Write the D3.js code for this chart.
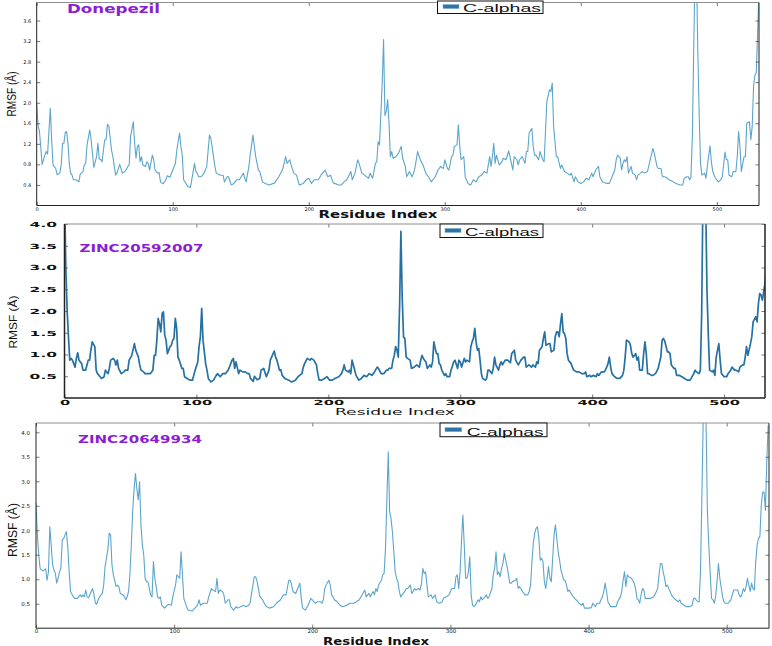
<!DOCTYPE html>
<html><head><meta charset="utf-8">
<script src="https://cdn.jsdelivr.net/npm/d3@7"></script>
<style>body{margin:0;background:#fff}svg{display:block}</style>
</head><body>
<svg id="c" width="772" height="646"></svg>
<script>
// ---- data (residue index, RMSF in Å) ----
const xTicks = [0, 100, 200, 300, 400, 500];
const yTicksDonepezil = [0.4, 0.8, 1.2, 1.6, 2.0, 2.4, 2.8, 3.2, 3.6];
const yTicksZinc = [0.5, 1.0, 1.5, 2.0, 2.5, 3.0, 3.5, 4.0];
const titles = ["Donepezil", "ZINC20592007", "ZINC20649934"];
const legendLabel = "C-alphas";
const xLabel = "Residue Index";
const yLabel = "RMSF (Å)";

const donepezil = [[0,1.98],[1,1.55],[2,1.45],[4,0.80],[6,0.98],[7,1.05],[8,1.00],[10,1.89],[11,1.28],[12,0.79],[14,0.72],[15,0.60],[17,0.63],[18,0.79],[19,1.21],[20,1.21],[21,1.42],[22,1.44],[23,1.21],[24,0.80],[25,0.63],[26,0.59],[27,0.50],[29,0.50],[31,0.46],[32,0.61],[34,0.66],[35,0.79],[36,0.82],[37,1.18],[39,1.47],[40,1.28],[42,0.74],[44,0.95],[45,1.21],[46,0.90],[47,0.90],[48,0.85],[50,1.28],[51,1.28],[52,1.58],[53,1.55],[55,1.08],[56,0.95],[58,0.59],[59,0.63],[61,0.80],[62,0.72],[63,0.63],[65,0.66],[67,0.76],[68,0.79],[69,1.34],[71,1.63],[72,1.21],[73,0.92],[74,1.15],[75,1.18],[76,0.85],[77,0.95],[78,0.79],[80,0.76],[81,0.85],[82,0.82],[83,0.69],[85,0.98],[86,0.89],[87,0.69],[89,0.63],[90,0.64],[91,0.46],[93,0.42],[95,0.50],[96,0.58],[98,0.55],[100,0.69],[102,0.82],[103,1.08],[105,1.41],[106,1.15],[107,0.98],[108,0.50],[110,0.42],[111,0.37],[113,0.35],[114,0.50],[116,0.82],[117,0.66],[118,0.63],[119,0.56],[121,0.56],[123,0.63],[125,0.76],[127,1.37],[128,1.31],[130,0.95],[131,0.76],[132,0.63],[135,0.59],[137,0.59],[138,0.46],[140,0.56],[141,0.56],[143,0.40],[145,0.43],[147,0.50],[149,0.50],[152,0.63],[153,0.53],[154,0.46],[156,0.76],[157,1.00],[159,1.37],[161,0.95],[163,0.69],[164,0.66],[166,0.46],[168,0.43],[171,0.40],[175,0.44],[178,0.56],[180,0.66],[181,0.72],[183,0.95],[184,0.82],[186,0.89],[187,0.79],[189,0.63],[191,0.59],[193,0.40],[196,0.43],[198,0.50],[200,0.53],[202,0.43],[204,0.50],[207,0.50],[209,0.59],[212,0.69],[214,0.56],[216,0.59],[218,0.44],[222,0.40],[224,0.40],[226,0.46],[228,0.50],[231,0.66],[232,0.50],[234,0.63],[236,0.89],[237,0.82],[239,0.63],[241,0.59],[244,0.53],[245,0.63],[247,0.53],[249,0.82],[250,0.85],[251,1.24],[252,1.18],[254,2.38],[255,3.23],[256,1.75],[257,1.83],[258,2.06],[259,1.60],[260,0.95],[261,1.05],[262,0.92],[264,0.95],[266,1.02],[268,1.15],[269,0.92],[271,0.76],[272,0.56],[274,0.66],[276,0.56],[277,0.63],[278,0.72],[280,1.05],[282,0.89],[284,0.79],[286,0.63],[288,0.56],[290,0.46],[293,0.56],[295,0.69],[297,0.76],[299,0.72],[300,0.89],[302,0.72],[303,0.69],[305,0.95],[306,0.98],[307,1.15],[309,1.18],[310,1.57],[311,1.15],[312,0.89],[314,0.95],[315,0.56],[317,0.43],[319,0.40],[321,0.50],[323,0.46],[325,0.56],[327,0.59],[329,0.66],[331,0.63],[333,0.95],[334,0.76],[335,0.95],[336,1.21],[337,0.82],[338,0.98],[340,0.79],[342,0.85],[343,0.92],[345,0.89],[347,1.06],[349,0.82],[350,0.69],[351,0.95],[353,0.89],[354,0.79],[355,0.89],[357,0.95],[359,0.82],[360,1.05],[361,1.05],[362,1.41],[364,1.50],[365,1.15],[366,0.98],[367,0.98],[369,0.89],[370,1.05],[372,0.89],[373,0.85],[374,1.41],[375,2.02],[377,2.25],[378,2.22],[379,2.38],[380,1.54],[382,0.95],[383,0.95],[385,0.72],[386,0.79],[388,0.66],[390,0.63],[392,0.59],[393,0.63],[395,0.46],[396,0.56],[398,0.46],[400,0.43],[402,0.46],[404,0.53],[406,0.50],[408,0.63],[409,0.56],[411,0.69],[413,0.76],[414,0.56],[416,0.46],[419,0.43],[421,0.43],[423,0.56],[425,0.69],[426,0.89],[427,0.98],[429,0.92],[430,0.69],[431,0.82],[432,0.89],[433,0.85],[434,0.95],[435,0.63],[437,0.76],[438,0.63],[440,0.59],[441,0.50],[442,0.59],[444,0.63],[445,0.66],[447,0.63],[449,0.66],[451,0.89],[453,1.11],[454,1.02],[456,0.76],[457,0.72],[459,0.72],[460,0.56],[462,0.56],[465,0.50],[468,0.46],[470,0.43],[473,0.40],[475,0.40],[476,0.53],[478,0.56],[479,0.56],[480,0.50],[481,0.55],[482,1.34],[483,3.03],[484,4.60],[485,4.60],[486,3.03],[487,1.80],[488,0.82],[489,0.59],[491,0.63],[492,0.53],[493,0.76],[495,1.16],[496,0.85],[497,0.66],[499,0.53],[501,0.46],[503,0.50],[504,0.56],[506,1.04],[507,0.89],[508,0.89],[509,0.59],[511,0.56],[512,0.66],[514,0.66],[515,0.95],[516,1.44],[517,1.15],[518,0.66],[520,0.95],[521,0.95],[522,1.60],[524,1.63],[525,1.28],[526,1.54],[527,2.32],[528,2.54],[529,2.58],[530,3.36],[531,4.20]];

const zinc20592007 = [[0,4.80],[1,3.00],[2,2.02],[3,1.41],[4,0.87],[5,0.91],[6,0.87],[8,0.71],[9,0.91],[10,1.04],[11,0.87],[13,0.79],[14,0.64],[16,0.64],[18,0.87],[19,0.87],[20,1.10],[21,1.29],[23,1.18],[24,0.64],[25,0.56],[27,0.49],[28,0.45],[30,0.49],[31,0.64],[33,0.56],[34,0.68],[35,0.87],[37,0.91],[38,0.87],[39,0.76],[40,0.87],[41,0.68],[43,0.56],[45,0.60],[46,0.64],[48,0.64],[49,0.87],[51,0.98],[53,1.25],[54,1.10],[56,0.94],[57,0.76],[58,0.64],[60,0.60],[61,0.56],[63,0.56],[65,0.56],[67,0.64],[68,0.98],[69,0.98],[70,1.33],[71,1.83],[72,1.71],[73,1.52],[74,1.94],[75,1.98],[76,1.44],[77,1.33],[78,1.02],[80,1.18],[81,1.21],[82,1.33],[83,1.37],[84,1.83],[85,1.60],[86,0.94],[87,0.87],[89,0.68],[90,0.68],[91,0.49],[93,0.45],[95,0.41],[97,0.41],[99,0.64],[101,0.83],[102,1.18],[103,1.41],[104,2.06],[105,1.33],[107,0.79],[108,0.64],[109,0.45],[111,0.37],[113,0.41],[115,0.52],[116,0.56],[118,0.49],[120,0.56],[122,0.56],[124,0.64],[125,0.71],[127,0.87],[128,0.91],[129,0.68],[130,0.83],[132,0.56],[133,0.64],[135,0.60],[137,0.60],[139,0.56],[140,0.56],[141,0.45],[143,0.38],[144,0.50],[146,0.42],[148,0.45],[149,0.64],[151,0.68],[153,0.49],[155,0.64],[156,0.87],[157,0.94],[159,1.08],[160,0.94],[161,0.87],[163,0.64],[164,0.65],[165,0.52],[167,0.45],[170,0.41],[172,0.37],[175,0.41],[177,0.49],[180,0.56],[181,0.71],[182,0.79],[184,0.91],[186,0.87],[187,0.91],[189,0.87],[191,0.76],[192,0.56],[193,0.41],[195,0.41],[197,0.45],[199,0.49],[201,0.41],[203,0.41],[205,0.45],[208,0.49],[210,0.56],[211,0.64],[212,0.76],[213,0.64],[215,0.60],[216,0.64],[217,0.56],[218,0.87],[220,0.64],[221,0.52],[223,0.41],[225,0.45],[227,0.52],[229,0.49],[231,0.56],[233,0.52],[235,0.60],[237,0.71],[238,0.68],[240,0.56],[242,0.56],[244,0.64],[245,0.64],[246,0.68],[248,0.68],[249,0.87],[250,0.98],[251,1.18],[252,1.10],[253,0.94],[254,2.10],[255,3.83],[256,2.30],[257,1.40],[258,1.37],[259,0.94],[260,0.91],[262,0.87],[263,0.68],[265,0.71],[267,0.76],[269,0.71],[270,0.87],[271,0.98],[272,0.91],[274,0.83],[275,0.68],[277,0.76],[278,0.71],[279,0.83],[280,1.29],[281,1.14],[282,1.02],[283,1.02],[284,0.79],[285,0.76],[286,0.64],[288,0.52],[289,0.56],[290,0.49],[292,0.49],[293,0.64],[295,0.83],[296,0.87],[298,0.68],[299,0.87],[300,0.83],[301,0.71],[303,0.91],[304,0.83],[305,0.87],[307,0.83],[308,1.18],[309,1.29],[310,1.37],[311,1.60],[312,1.29],[313,1.10],[314,1.14],[315,0.87],[316,0.56],[317,0.45],[319,0.41],[320,0.45],[321,0.64],[322,0.64],[324,0.56],[325,0.68],[326,0.94],[327,0.76],[329,0.64],[330,0.76],[331,0.83],[332,0.76],[334,0.87],[336,0.87],[338,0.81],[339,1.02],[341,1.10],[342,0.87],[344,0.76],[346,0.87],[348,0.94],[349,0.94],[350,0.71],[352,0.76],[354,0.71],[355,0.76],[357,0.71],[358,0.83],[359,0.79],[360,1.10],[362,1.18],[363,1.37],[364,1.52],[365,1.21],[367,1.25],[368,1.25],[369,1.06],[371,1.10],[372,1.41],[373,1.52],[374,1.52],[375,1.41],[376,1.71],[377,1.94],[378,1.52],[379,1.48],[380,1.37],[381,1.02],[382,0.87],[384,0.79],[385,0.71],[386,0.64],[388,0.60],[390,0.60],[392,0.56],[394,0.56],[395,0.60],[396,0.49],[398,0.52],[399,0.49],[401,0.52],[403,0.49],[404,0.56],[405,0.52],[407,0.60],[409,0.60],[410,0.64],[411,0.71],[412,0.79],[413,0.94],[414,0.71],[415,0.56],[417,0.49],[419,0.45],[421,0.45],[423,0.52],[424,0.64],[425,0.94],[426,1.33],[428,1.29],[429,1.21],[430,1.02],[431,0.94],[433,1.02],[434,0.87],[435,0.94],[436,0.64],[438,0.64],[439,1.02],[440,1.29],[441,1.02],[442,0.56],[443,0.56],[445,0.52],[446,0.52],[448,0.56],[450,0.68],[452,0.94],[453,1.33],[454,1.37],[455,1.31],[457,1.06],[458,1.06],[459,1.02],[460,0.76],[462,0.68],[463,0.68],[464,0.52],[466,0.52],[468,0.49],[470,0.45],[472,0.41],[474,0.41],[475,0.45],[477,0.56],[478,0.64],[479,0.60],[481,0.56],[482,0.64],[483,1.94],[484,4.80],[485,4.80],[486,4.60],[487,2.50],[488,1.48],[489,0.64],[491,0.60],[492,0.64],[493,0.52],[494,0.94],[496,1.25],[497,0.87],[498,0.56],[500,0.49],[502,0.49],[503,0.56],[505,0.64],[506,0.71],[508,0.64],[509,0.64],[511,0.60],[512,0.71],[514,0.76],[515,0.76],[516,0.94],[517,1.18],[518,0.98],[520,1.25],[521,1.41],[522,1.75],[524,1.87],[525,1.75],[526,2.17],[527,2.40],[528,2.37],[529,2.25],[531,2.63],[532,2.94]];

const zinc20649934 = [[0,2.55],[1,1.90],[2,1.49],[3,1.22],[4,1.19],[5,1.17],[6,1.19],[7,1.21],[8,0.98],[9,1.15],[10,2.07],[11,1.70],[12,1.30],[13,1.19],[14,1.12],[15,0.92],[16,1.02],[17,1.15],[18,1.22],[19,1.80],[20,1.83],[21,1.90],[22,1.97],[23,1.66],[24,1.15],[25,0.75],[27,0.64],[28,0.61],[30,0.61],[32,0.68],[33,0.64],[34,0.68],[35,0.64],[36,0.78],[37,0.64],[38,0.62],[40,0.75],[41,0.81],[42,0.68],[43,0.51],[44,0.49],[45,0.58],[46,0.64],[48,0.71],[49,0.88],[50,1.26],[51,1.43],[52,1.60],[53,1.94],[54,1.90],[55,1.29],[56,1.09],[58,0.85],[59,0.88],[60,0.85],[61,0.71],[63,0.68],[64,0.64],[65,0.58],[66,0.64],[67,0.75],[68,1.10],[69,1.70],[70,2.40],[71,2.85],[72,3.16],[73,2.85],[74,2.62],[75,2.99],[76,2.10],[77,1.70],[78,1.49],[79,1.02],[80,0.95],[81,0.95],[83,0.68],[84,0.64],[85,1.36],[86,1.02],[87,0.85],[88,0.64],[89,0.61],[90,0.64],[91,0.47],[93,0.41],[95,0.47],[96,0.49],[98,0.47],[99,0.64],[101,0.88],[102,1.09],[104,1.02],[105,1.56],[106,1.09],[107,0.61],[109,0.44],[110,0.37],[113,0.35],[115,0.41],[117,0.47],[118,0.58],[119,0.47],[121,0.51],[122,0.51],[124,0.51],[125,0.64],[127,0.81],[128,0.78],[130,0.75],[131,1.02],[132,0.71],[133,0.78],[135,0.75],[136,0.68],[137,0.51],[139,0.58],[140,0.58],[141,0.44],[143,0.37],[145,0.44],[146,0.41],[148,0.44],[150,0.47],[152,0.44],[154,0.47],[155,0.52],[156,0.70],[158,1.05],[159,1.05],[160,0.96],[161,0.81],[162,0.65],[164,0.58],[166,0.47],[167,0.44],[169,0.41],[172,0.44],[174,0.51],[177,0.58],[179,0.68],[181,0.68],[183,0.98],[184,0.98],[185,0.88],[186,0.75],[188,0.71],[190,0.85],[191,0.92],[192,0.61],[193,0.41],[195,0.37],[197,0.47],[199,0.61],[200,0.58],[202,0.51],[204,0.54],[206,0.54],[207,0.51],[208,0.58],[209,0.81],[210,0.88],[212,0.98],[213,0.88],[214,0.68],[215,0.64],[216,0.58],[218,0.54],[220,0.47],[222,0.44],[225,0.47],[227,0.51],[230,0.51],[232,0.54],[234,0.58],[236,0.68],[238,0.78],[239,0.64],[241,0.71],[242,0.64],[244,0.75],[245,0.68],[246,0.81],[247,0.75],[248,0.88],[250,0.98],[251,1.09],[252,1.12],[253,1.63],[254,2.65],[255,3.60],[256,2.38],[257,2.24],[258,1.97],[259,1.56],[260,1.15],[261,1.02],[262,0.95],[263,0.75],[264,0.64],[265,0.68],[267,0.75],[268,0.81],[269,0.81],[271,0.88],[272,0.71],[273,0.75],[274,0.81],[275,0.78],[277,0.81],[278,0.78],[279,0.90],[280,1.22],[281,1.12],[282,1.15],[283,0.88],[284,0.64],[286,0.68],[287,0.61],[289,0.68],[290,0.54],[292,0.51],[294,0.54],[295,0.61],[297,0.64],[299,0.68],[300,0.75],[301,0.81],[303,0.81],[304,1.05],[305,1.09],[306,0.81],[307,1.15],[308,1.77],[309,2.31],[310,1.70],[311,1.02],[312,1.02],[313,1.15],[314,1.46],[315,0.68],[316,0.47],[317,0.44],[318,0.47],[320,0.58],[321,0.54],[322,0.64],[323,0.58],[325,0.64],[326,0.68],[327,0.61],[328,0.64],[330,0.81],[331,1.09],[332,1.22],[333,1.56],[334,1.09],[335,1.15],[336,1.05],[337,1.22],[338,1.32],[339,1.53],[341,1.26],[342,1.09],[343,0.92],[344,0.92],[345,0.95],[347,0.98],[348,1.02],[349,0.81],[350,0.85],[351,0.81],[353,0.71],[354,0.68],[356,0.68],[357,0.75],[358,0.88],[359,1.36],[360,1.73],[361,1.94],[362,2.04],[363,2.07],[364,1.83],[365,1.39],[366,1.43],[367,1.36],[368,0.95],[369,0.81],[370,1.02],[371,1.26],[372,1.02],[373,0.95],[374,1.43],[375,1.90],[376,2.11],[377,1.83],[378,1.56],[379,1.39],[380,1.19],[382,0.98],[383,0.98],[384,0.88],[385,0.75],[386,0.78],[388,0.68],[389,0.64],[391,0.58],[393,0.51],[395,0.47],[396,0.51],[397,0.41],[400,0.41],[402,0.42],[403,0.51],[405,0.44],[406,0.51],[408,0.51],[409,0.58],[410,0.64],[411,0.75],[412,0.92],[413,0.75],[414,0.54],[416,0.44],[418,0.44],[420,0.44],[421,0.54],[423,0.64],[424,0.75],[425,0.98],[426,1.15],[427,0.85],[428,1.09],[429,1.05],[431,1.02],[432,0.98],[433,0.92],[434,0.81],[435,0.61],[436,0.58],[437,0.51],[438,0.68],[439,0.81],[440,0.78],[441,0.61],[443,0.61],[445,0.61],[447,0.64],[448,0.68],[450,0.81],[451,1.09],[452,1.32],[453,1.32],[454,1.15],[455,1.02],[456,0.85],[457,0.88],[459,0.75],[460,0.68],[461,0.64],[462,0.61],[463,0.58],[465,0.54],[466,0.58],[467,0.51],[469,0.47],[471,0.44],[473,0.44],[475,0.47],[476,0.61],[477,0.61],[479,0.54],[480,0.54],[481,1.15],[482,2.65],[483,4.30],[485,4.30],[486,2.38],[487,1.70],[488,1.15],[489,0.61],[490,0.58],[491,0.51],[492,0.65],[493,0.95],[494,1.32],[495,1.02],[497,0.64],[498,0.54],[499,0.51],[501,0.51],[503,0.58],[504,0.68],[505,0.78],[507,0.78],[508,0.78],[509,0.68],[510,0.64],[511,0.68],[512,0.81],[513,0.75],[514,0.85],[515,1.02],[516,0.88],[517,0.75],[518,0.92],[519,0.81],[520,0.78],[521,1.36],[522,1.70],[523,1.83],[524,1.87],[525,2.51],[526,2.78],[527,2.78],[528,2.41],[529,3.40],[530,4.15]];

// ---- layout ----
const svg = d3.select("#c");
svg.append("rect").attr("width",772).attr("height",646).attr("fill","#fff");

const panels = [
  { id:"p1", data: donepezil, title: titles[0], yTicks: yTicksDonepezil, yFmt: d3.format(".1f"),
    L:36.7, R:759, T:2.5, B:205.5, xMax:531, yMax:3.95,
    line:{color:"#5ba5cc", width:1.1},
    tick:{size:5, yPad:5.5, xPad:2, stretch:false},
    titlePos:{x:67, y:13.3, size:11.5, len:93},
    legend:{x:437.5, y:1, w:105.5, h:12.5, px:443, py:4.6, pw:16, ph:4, tx:463, ty:11.6, size:11, len:78},
    xl:{x:378, y:217.5, size:10, len:119, weight:"bold"},
    yl:{x:16, y:94, size:12, len:45} },
  { id:"p2", data: zinc20592007, title: titles[1], yTicks: yTicksZinc, yFmt: d3.format(".1f"),
    L:64.5, R:765, T:224, B:398, xMax:531, yMax:4.0,
    line:{color:"#2671a4", width:1.7},
    tick:{size:7, yPad:7.5, xPad:2.5, stretch:true},
    titlePos:{x:79.5, y:252, size:10.5, len:124},
    legend:{x:440, y:224, w:103, h:13.5, px:445, py:228.4, pw:16, ph:4, tx:465, ty:235.8, size:10.5, len:74},
    xl:{x:395, y:415, size:9.5, len:120, weight:"normal"},
    yl:{x:17, y:322, size:11, len:53} },
  { id:"p3", data: zinc20649934, title: titles[2], yTicks: yTicksZinc, yFmt: d3.format(".1f"),
    L:36, R:769, T:423, B:628.2, xMax:530.6, yMax:4.19,
    line:{color:"#5ba5cc", width:1.1},
    tick:{size:5.5, yPad:6, xPad:1.2, stretch:false},
    titlePos:{x:78, y:443.3, size:10.5, len:124},
    legend:{x:440, y:423, w:107, h:13.7, px:445, py:427.7, pw:16.7, ph:4, tx:466.7, ty:435.6, size:11, len:77},
    xl:{x:376, y:645, size:10.5, len:106, weight:"bold"},
    yl:{x:16.5, y:530, size:12, len:54} }
];

function stretchLen(s){ // width of stretched digits in panel 2
  let w=0; for(const ch of s){ w += (ch==="." ? 7 : 10.2); } return w;
}

panels.forEach(p => {
  const x = d3.scaleLinear().domain([0, p.xMax]).range([p.L, p.R]);
  const y = d3.scaleLinear().domain([0, p.yMax]).range([p.B, p.T]);
  const g = svg.append("g");

  g.append("clipPath").attr("id","clip-"+p.id).append("rect")
    .attr("x",p.L).attr("y",p.T).attr("width",p.R-p.L).attr("height",p.B-p.T);

  // data line
  const line = d3.line().x(d=>x(d[0])).y(d=>y(d[1]));
  g.append("path").datum(p.data).attr("d",line)
    .attr("fill","none").attr("stroke",p.line.color).attr("stroke-width",p.line.width)
    .attr("stroke-linejoin","round").attr("clip-path","url(#clip-"+p.id+")");

  // axes (inward ticks)
  const tickFont = "DejaVu Sans, sans-serif";
  const ax = g.append("g").attr("transform",`translate(${p.L},0)`)
    .call(d3.axisLeft(y).tickValues(p.yTicks).tickFormat(p.yFmt).tickSizeInner(-3.5).tickSizeOuter(0).tickPadding(p.tick.yPad));
  const bx = g.append("g").attr("transform",`translate(0,${p.B})`)
    .call(d3.axisBottom(x).tickValues(xTicks).tickFormat(d3.format("d")).tickSizeInner(-3.5).tickSizeOuter(0).tickPadding(p.tick.xPad));
  const rx = g.append("g").attr("transform",`translate(${p.R},0)`)
    .call(d3.axisRight(y).tickValues(p.yTicks).tickFormat("").tickSizeInner(-3.5).tickSizeOuter(0));
  const tx = g.append("g").attr("transform",`translate(0,${p.T})`)
    .call(d3.axisTop(x).tickValues(xTicks).tickFormat("").tickSizeInner(-3.5).tickSizeOuter(0));
  [ax,bx,rx,tx].forEach(a => {
    a.select(".domain").remove();
    a.selectAll(".tick line").attr("stroke","#555").attr("stroke-width",0.8);
    a.selectAll("text").attr("font-family",tickFont).attr("font-size",p.tick.size).attr("fill","#111");
  });
  if (p.tick.stretch) {
    [ax,bx].forEach(a => a.selectAll("text").each(function(){
      const t = d3.select(this); const s = t.text();
      t.attr("textLength", stretchLen(s)).attr("lengthAdjust","spacingAndGlyphs").attr("font-weight","bold");
    }));
  }

  // frame
  const fw = p.id==="p2" ? 1.5 : 1;
  g.append("line").attr("x1",p.L).attr("x2",p.R).attr("y1",p.T).attr("y2",p.T).attr("stroke","#8f8f8f").attr("stroke-width",1);
  g.append("line").attr("x1",p.L).attr("x2",p.L).attr("y1",p.T).attr("y2",p.B).attr("stroke","#222").attr("stroke-width",fw);
  g.append("line").attr("x1",p.R).attr("x2",p.R).attr("y1",p.T).attr("y2",p.B).attr("stroke","#222").attr("stroke-width",fw);
  g.append("line").attr("x1",p.L).attr("x2",p.R).attr("y1",p.B).attr("y2",p.B).attr("stroke","#222").attr("stroke-width",fw);

  // title
  g.append("text").attr("x",p.titlePos.x).attr("y",p.titlePos.y).text(p.title)
    .attr("font-family","DejaVu Sans, sans-serif").attr("font-weight","bold")
    .attr("font-size",p.titlePos.size).attr("fill","#8c1ed2")
    .attr("textLength",p.titlePos.len).attr("lengthAdjust","spacingAndGlyphs");

  // legend
  const lg = p.legend;
  g.append("rect").attr("x",lg.x).attr("y",lg.y).attr("width",lg.w).attr("height",lg.h)
    .attr("fill","#fff").attr("stroke","#111").attr("stroke-width",1);
  g.append("rect").attr("x",lg.px).attr("y",lg.py).attr("width",lg.pw).attr("height",lg.ph)
    .attr("fill","#2f73a5").attr("stroke","#7fb0d0").attr("stroke-width",0.6);
  g.append("text").attr("x",lg.tx).attr("y",lg.ty).text(legendLabel)
    .attr("font-family","Liberation Sans, Arial, sans-serif").attr("font-size",lg.size).attr("fill","#111")
    .attr("textLength",lg.len).attr("lengthAdjust","spacingAndGlyphs");

  // axis labels
  g.append("text").attr("x",p.xl.x).attr("y",p.xl.y).attr("text-anchor","middle").text(xLabel)
    .attr("font-family","DejaVu Sans, sans-serif").attr("font-size",p.xl.size).attr("font-weight",p.xl.weight)
    .attr("fill","#111").attr("textLength",p.xl.len).attr("lengthAdjust","spacingAndGlyphs");
  g.append("text").attr("transform",`translate(${p.yl.x},${p.yl.y}) rotate(-90)`).attr("text-anchor","middle").text(yLabel)
    .attr("font-family","Liberation Sans, Arial, sans-serif").attr("font-size",p.yl.size)
    .attr("fill","#111").attr("textLength",p.yl.len).attr("lengthAdjust","spacingAndGlyphs");
});
</script>
</body></html>
